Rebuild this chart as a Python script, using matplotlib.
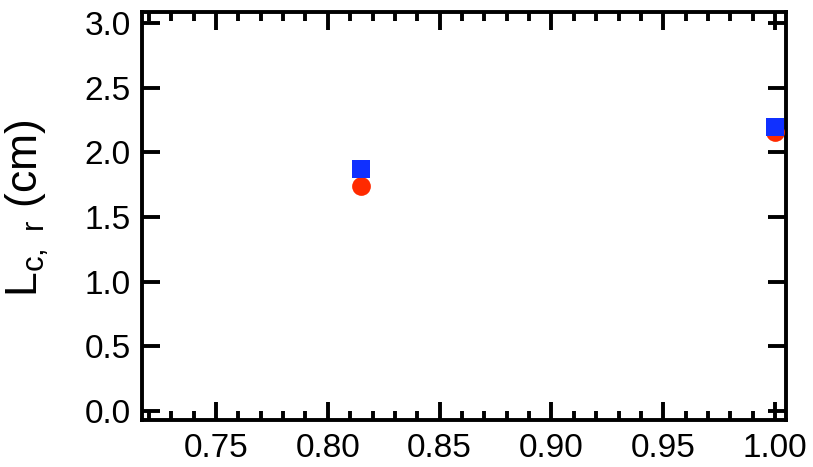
import matplotlib
matplotlib.use("Agg")
import matplotlib.pyplot as plt
from matplotlib.ticker import MultipleLocator

plt.rcParams["font.family"] = ["Liberation Sans", "DejaVu Sans"]
plt.rcParams["mathtext.default"] = "regular"

# sample positions and measured lengths
x_vals = [0.815, 1.0]
circle_vals = [1.74, 2.155]
square_vals = [1.872, 2.196]

fig = plt.figure(figsize=(8.13, 4.67), dpi=100)
ax = fig.add_axes([0.1747, 0.1006, 0.7921, 0.8737])

ax.plot(x_vals, circle_vals, "o", color="#ff2a00", markersize=13.5,
        markeredgewidth=0, clip_on=False, zorder=3)
ax.plot(x_vals, square_vals, "s", color="#1030ff", markersize=13.5,
        markeredgewidth=0, clip_on=False, zorder=4)

ax.set_xlim(0.7169, 1.0049)
ax.set_ylim(-0.07, 3.085)
ax.xaxis.set_major_locator(MultipleLocator(0.05))
ax.xaxis.set_minor_locator(MultipleLocator(0.01))
ax.yaxis.set_major_locator(MultipleLocator(0.5))
ax.xaxis.set_major_formatter(plt.FormatStrFormatter("%.2f"))
ax.yaxis.set_major_formatter(plt.FormatStrFormatter("%.1f"))

ax.tick_params(which="both", direction="in", top=True, right=True, width=2.8,
               labelsize=24)
ax.tick_params(which="major", length=13)
ax.tick_params(which="minor", length=6.5)
ax.tick_params(axis="x", pad=9)
ax.tick_params(axis="y", pad=8)
for sp in ax.spines.values():
    sp.set_linewidth(2.8)

ax.set_ylabel("L$_{c,\\ r}$ (cm)", fontsize=32)
ax.yaxis.set_label_coords(-0.142, 0.52)

fig.savefig("out.png", dpi=100)
